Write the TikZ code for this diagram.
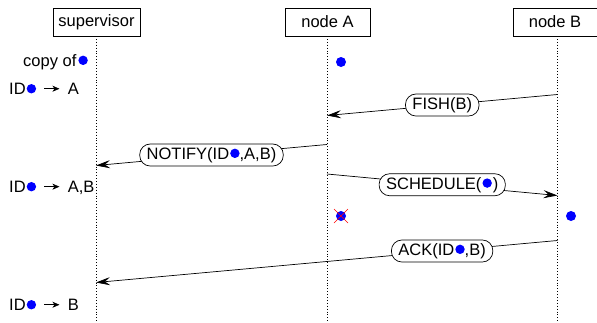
\documentclass[tikz,border=0pt]{standalone}
\usepackage{fontspec}
\setmainfont{Liberation Sans}
\usetikzlibrary{arrows.meta}
\newcommand{\bdot}{\tikz[x=1cm,y=1cm,baseline=0pt]\fill[blue] (0,0.36em) circle (4.7pt);}
\newcommand{\smallarr}{\tikz[x=1cm,y=1cm,baseline=0pt]\draw[line width=0.7pt,-{Stealth[length=7pt,width=6pt,inset=2pt]}] (0,0.36em) -- (15pt,0.36em);}
\tikzset{
  actor/.style={draw, line width=0.7pt, minimum height=28pt, inner sep=0pt, font=\fontsize{16.5}{18}\selectfont},
  life/.style={dotted, line width=0.9pt},
  msg/.style={-{Stealth[length=14pt,width=8pt,inset=5pt]}, line width=0.7pt},
  lbl/.style={draw, line width=0.7pt, rounded corners=10.5pt, fill=white, inner xsep=7pt, inner ysep=0pt, minimum height=22pt, font=\fontsize{16.5}{18}\selectfont},
  note/.style={inner sep=0pt, font=\fontsize{16.5}{18}\selectfont},
}
\begin{document}
\begin{tikzpicture}[x=1pt,y=-1pt]
\useasboundingbox (0,0) rectangle (597,322);
% actors
\node[actor, minimum width=87pt] (sup) at (96.5,22) {supervisor};
\node[actor, minimum width=85pt] (na) at (327.5,22) {node A};
\node[actor, minimum width=84pt] (nb) at (555,22) {node B};
% lifeline ends
\coordinate (supT) at (96,36); \coordinate (supE) at (96,322);
\coordinate (naT) at (327,36); \coordinate (naE) at (327,322);
\coordinate (nbT) at (557.5,36); \coordinate (nbE) at (557.5,322);
\draw[life] (supT) -- (supE);
\draw[life] (naT) -- (naE);
\draw[life] (nbT) -- (nbE);
% message end points
\coordinate (f1) at (557.5,94.5); \coordinate (f2) at (327,115.5);
\coordinate (n1) at (327,144.5); \coordinate (n2) at (96,165.5);
\coordinate (s1) at (327,174); \coordinate (s2) at (557.5,195.5);
\coordinate (a1) at (557.5,240.5); \coordinate (a2) at (96,282.5);
\draw[msg] (f1) -- node[lbl]{FISH(B)} (f2);
\draw[msg] (n1) -- node[lbl]{NOTIFY(ID\hspace{1pt}\bdot,A,B)} (n2);
\draw[msg] (s1) -- node[lbl]{SCHEDULE(\hspace{1pt}\bdot\hspace{1pt})} (s2);
\draw[msg] (a1) -- node[lbl, pos=0.25]{ACK(ID\hspace{1pt}\bdot,B)} (a2);
% notes
\node[note, anchor=east] (copy) at (88,62) {copy of\hspace{2pt}\bdot};
\node[note, anchor=west] (r1) at (9,89) {ID\hspace{1pt}\bdot\hspace{8pt}\smallarr\hspace{8pt}A};
\node[note, anchor=west] (r2) at (9,188) {ID\hspace{1pt}\bdot\hspace{8pt}\smallarr\hspace{8pt}A,B};
\node[note, anchor=west] (r3) at (9,305) {ID\hspace{1pt}\bdot\hspace{8pt}\smallarr\hspace{8pt}B};
% dots
\fill[blue] (341,62) circle (5pt);
\fill[blue] (571,216) circle (5pt);
\fill[blue] (341,216) circle (5pt);
\draw[red, line width=0.6pt] (334,209) -- (348,223) (334,223) -- (348,209);
\end{tikzpicture}
\end{document}
